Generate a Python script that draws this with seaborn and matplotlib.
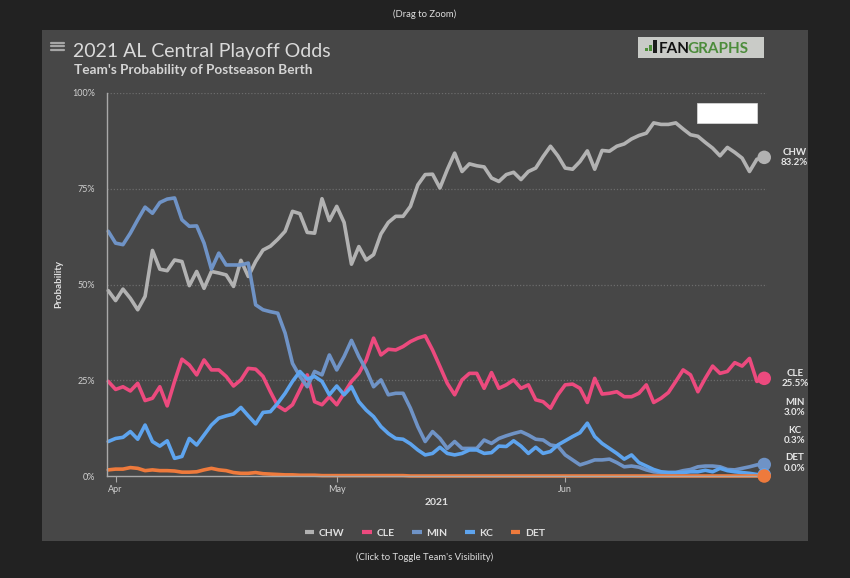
import matplotlib
matplotlib.use("Agg")
import matplotlib.pyplot as plt
from matplotlib.patches import Rectangle
from matplotlib.lines import Line2D
import numpy as np
import pandas as pd
import seaborn as sns

# daily playoff odds, Mar 31 - Jun 28 2021
start_date = "2021-03-31"
teams = ["CHW", "CLE", "MIN", "KC", "DET"]
colors = ["#b2b2b2", "#ec4a7e", "#6f93c6", "#5ea4ee", "#ee7a3c"]

chw = [48.4, 45.8, 48.8, 46.4, 43.4, 46.9, 58.9, 54.0, 53.6, 56.4,
       56.0, 49.7, 53.4, 49.0, 53.4, 53.0, 52.5, 49.5, 56.3, 52.1,
       56.0, 59.0, 60.0, 61.8, 63.9, 69.1, 68.5, 63.6, 63.4, 72.4,
       66.7, 70.4, 66.2, 55.3, 59.9, 56.4, 57.8, 63.2, 66.2, 67.8,
       67.8, 70.4, 76.0, 78.7, 78.8, 75.2, 80.0, 84.3, 79.5, 81.5,
       81.0, 80.7, 77.8, 76.9, 78.7, 79.3, 77.4, 79.5, 80.4, 83.4,
       86.1, 83.6, 80.4, 80.1, 82.1, 84.9, 80.1, 85.0, 84.8, 86.1,
       86.7, 88.0, 88.9, 89.5, 92.2, 91.8, 91.8, 92.2, 90.6, 89.1,
       88.7, 87.1, 85.6, 83.6, 85.8, 84.5, 83.0, 79.5, 82.7, 83.2]
cle = [24.7, 22.6, 23.3, 22.2, 24.2, 19.7, 20.3, 23.3, 18.3, 24.7,
       30.5, 29.0, 26.4, 30.3, 27.7, 27.7, 26.0, 23.5, 25.1, 28.1,
       27.9, 26.0, 22.0, 18.3, 17.1, 18.6, 22.5, 26.4, 19.4, 18.6,
       20.7, 18.6, 21.6, 24.7, 26.8, 30.3, 36.0, 31.6, 33.1, 32.9,
       33.8, 35.1, 36.0, 36.6, 32.9, 28.6, 24.2, 21.2, 25.1, 26.8,
       26.8, 22.9, 27.0, 22.9, 23.8, 25.1, 22.9, 23.8, 19.9, 19.4,
       17.7, 21.2, 23.8, 24.0, 22.9, 19.2, 25.5, 21.4, 21.6, 22.0,
       20.7, 20.7, 21.6, 23.8, 19.2, 20.3, 21.8, 24.7, 27.7, 26.4,
       22.0, 25.5, 28.7, 26.8, 27.3, 29.6, 28.7, 30.7, 24.7, 25.5]
min_ = [63.9, 60.8, 60.4, 63.4, 66.9, 70.2, 68.6, 71.4, 72.3, 72.6,
        66.9, 65.2, 65.3, 60.8, 54.0, 58.2, 55.1, 55.1, 55.1, 55.6,
        44.7, 43.4, 42.9, 42.5, 37.3, 29.4, 26.0, 23.3, 27.3, 26.4,
        31.6, 27.7, 31.2, 35.4, 31.2, 27.7, 23.3, 25.1, 21.2, 21.6,
        21.6, 17.7, 12.9, 9.0, 11.6, 9.8, 7.2, 9.0, 7.2, 7.2,
        7.2, 9.4, 8.5, 9.8, 10.5, 11.1, 11.6, 10.7, 9.6, 9.4,
        8.1, 7.8, 5.5, 4.2, 2.9, 3.5, 4.2, 4.2, 4.4, 3.5,
        2.4, 2.6, 2.3, 1.6, 1.1, 0.9, 0.9, 0.9, 1.4, 1.7,
        2.4, 2.6, 2.6, 2.4, 1.7, 1.6, 2.0, 2.4, 2.9, 3.0]
kc = [9.0, 9.8, 10.1, 11.6, 9.6, 13.3, 9.0, 7.8, 9.2, 4.6,
      5.1, 9.8, 8.1, 10.7, 13.3, 15.1, 15.7, 16.2, 17.9, 15.7,
      13.6, 16.6, 16.8, 19.0, 21.6, 24.7, 27.3, 25.3, 26.0, 24.7,
      21.2, 23.5, 21.2, 23.3, 19.4, 17.2, 15.5, 12.9, 11.1, 9.8,
      9.6, 8.4, 6.8, 5.5, 5.9, 7.5, 5.9, 5.5, 5.9, 6.8,
      6.8, 5.9, 6.1, 7.8, 7.7, 9.2, 7.8, 5.9, 7.5, 5.9,
      6.4, 8.1, 9.2, 10.3, 11.3, 13.8, 10.3, 8.5, 7.2, 5.9,
      4.4, 5.5, 3.5, 2.6, 1.7, 1.1, 0.9, 0.9, 0.9, 1.1,
      1.1, 1.5, 1.1, 2.0, 1.4, 1.1, 0.9, 0.7, 0.4, 0.3]
det = [1.6, 1.8, 1.8, 2.2, 2.0, 1.4, 1.6, 1.4, 1.4, 1.3,
       1.0, 1.0, 1.1, 1.6, 2.0, 1.6, 1.4, 0.9, 0.7, 0.7,
       0.9, 0.6, 0.5, 0.4, 0.3, 0.3, 0.2, 0.2, 0.2, 0.1,
       0.1, 0.1, 0.1, 0.1, 0.1, 0.1, 0.1, 0.1, 0.1, 0.1,
       0.1, 0.0, 0.0, 0.0, 0.0, 0.0, 0.0, 0.0, 0.0, 0.0,
       0.0, 0.0, 0.0, 0.0, 0.0, 0.0, 0.0, 0.0, 0.0, 0.0,
       0.0, 0.0, 0.0, 0.0, 0.0, 0.0, 0.0, 0.0, 0.0, 0.0,
       0.0, 0.0, 0.0, 0.0, 0.0, 0.0, 0.0, 0.0, 0.0, 0.0,
       0.0, 0.0, 0.0, 0.0, 0.0, 0.0, 0.0, 0.0, 0.0, 0.0]

tick_dates = ["2021-04-01", "2021-05-01", "2021-06-01"]
tick_labels = ["Apr", "May", "Jun"]
y_ticks = [0, 25, 50, 75, 100]

dates = pd.date_range(start_date, periods=len(chw), freq="D")
df = pd.concat([pd.DataFrame({"date": dates, "prob": v, "team": t})
                for t, v in zip(teams, [chw, cle, min_, kc, det])])

sns.set_theme(style="dark")
plt.rcParams["font.family"] = ["Lato", "DejaVu Sans"]

W, H = 850, 578
fig = plt.figure(figsize=(W / 100, H / 100), dpi=100, facecolor="#222222")


def px(x, y):
    return x / W, 1 - y / H


def box(x0, y0, x1, y1, **kw):
    fx, fy = px(x0, y1)
    fig.add_artist(Rectangle((fx, fy), (x1 - x0) / W, (y1 - y0) / H,
                             transform=fig.transFigure, **kw))


# chart panel
box(42, 30, 808, 541, facecolor="#474747", edgecolor="none", zorder=0)

ax = fig.add_axes([107 / W, 1 - 476 / H, 660 / W, 383 / H])
ax.set_facecolor("none")

sns.lineplot(data=df, x="date", y="prob", hue="team", hue_order=teams,
             palette=colors, linewidth=2.6, legend=False, ax=ax)
for ln in ax.lines:
    ln.set_clip_on(False)
    ln.set_solid_joinstyle("round")

# end point circles
last = df[df["date"] == dates[-1]].set_index("team")
for t, c in zip(teams, colors):
    ax.scatter(dates[-1], last.loc[t, "prob"], s=95, color=c, zorder=5,
               clip_on=False, edgecolor="none")

# end labels, spread so they do not overlap
order = sorted(teams, key=lambda t: last.loc[t, "prob"])
pos = {}
prev = None
for t in order:
    y = max(last.loc[t, "prob"], 3.4)
    if prev is not None:
        y = max(y, prev + 7.2)
    pos[t] = y
    prev = y
for t in teams:
    ax.text(1.042, pos[t] / 100, f"{t}\n{last.loc[t, 'prob']:.1f}%",
            transform=ax.transAxes, ha="center", va="center", fontsize=7,
            fontweight="bold", color="#e6e6e6", linespacing=1.15)

ax.set_ylim(0, 100)
ax.set_xlim(dates[0] - pd.Timedelta(hours=4), dates[-1] + pd.Timedelta(hours=9))
ax.set_yticks(y_ticks)
ax.set_yticklabels([f"{v}%" for v in y_ticks])
ax.set_xticks(pd.to_datetime(tick_dates))
ax.set_xticklabels(tick_labels)
ax.grid(False)
for v in y_ticks[1:]:
    ax.axhline(v, color="#6c6c6c", lw=0.9, ls=(0, (1, 1.5)), zorder=0)

for s in ["top", "right"]:
    ax.spines[s].set_visible(False)
for s in ["left", "bottom"]:
    ax.spines[s].set_visible(True)
    ax.spines[s].set_color("#a9a9a9")
    ax.spines[s].set_linewidth(1)

ax.tick_params(axis="y", length=0, pad=8.5, labelsize=6.5, labelcolor="#d0d0d0")
ax.tick_params(axis="x", length=4, width=0.8, color="#a9a9a9", pad=2.5,
               labelsize=6.5, labelcolor="#d0d0d0", bottom=True)

ax.set_xlabel("2021", fontsize=7.5, fontweight="bold", color="#e0e0e0")
ax.xaxis.set_label_coords(0.5, -0.058)
ax.set_ylabel("Probability", fontsize=7, fontweight="bold", color="#e0e0e0")
ax.yaxis.set_label_coords(-0.066, 0.5)

# titles
fig.text(*px(73, 56.5), "2021 AL Central Playoff Odds", fontsize=14,
         color="#dadada", ha="left", va="baseline")
fig.text(*px(73.5, 73.5), "Team's Probability of Postseason Berth", fontsize=9.8,
         color="#d4d4d4", fontweight="bold", ha="left", va="baseline")

# menu icon
for yy in [42.5, 46.2, 49.9]:
    x0, y0 = px(51, yy)
    x1, _ = px(63.5, yy)
    fig.add_artist(Line2D([x0, x1], [y0, y0], color="#a6a6a6", lw=1.6,
                          transform=fig.transFigure))

# logo
box(638, 37, 764, 58, facecolor="#c9cbc7", edgecolor="none", zorder=1)
box(645, 48, 647.5, 51, facecolor="#4e8f3a", edgecolor="none", zorder=2)
box(649, 45, 651.5, 51, facecolor="#4e8f3a", edgecolor="none", zorder=2)
box(653, 40, 656.5, 53, facecolor="#1c1c1c", edgecolor="none", zorder=2)
t_fan = fig.text(*px(659, 53), "FAN", fontsize=11, color="#111111",
                 fontweight="bold", ha="left", va="baseline", zorder=3)
fig.canvas.draw()
bb = t_fan.get_window_extent()
fig.text((bb.x1 - 2.5) / W, 1 - 53 / H, "GRAPHS", fontsize=11, color="#4c8c3b",
         fontweight="bold", ha="left", va="baseline", zorder=3)

# empty button
box(697, 103, 757, 123, facecolor="#ffffff", edgecolor="#dddddd", lw=0.5, zorder=1)

# legend
handles = [Line2D([], [], color=c, lw=3, solid_capstyle="butt") for c in colors]
leg = fig.legend(handles, teams, loc="center", bbox_to_anchor=(0.5, 1 - 533 / H),
                 ncol=5, frameon=False, handlelength=0.9, handletextpad=0.45,
                 columnspacing=1.7, prop={"family": ["Lato"], "weight": "bold",
                                          "size": 7.5})
for txt in leg.get_texts():
    txt.set_color("#e0e0e0")

fig.text(0.5, 1 - 14 / H, "(Drag to Zoom)", fontsize=6.8, color="#dddddd",
         ha="center", va="center")
fig.text(0.5, 1 - 557 / H, "(Click to Toggle Team's Visibility)", fontsize=6.8,
         color="#dddddd", ha="center", va="center")

fig.savefig("out.png", dpi=100, facecolor=fig.get_facecolor())
